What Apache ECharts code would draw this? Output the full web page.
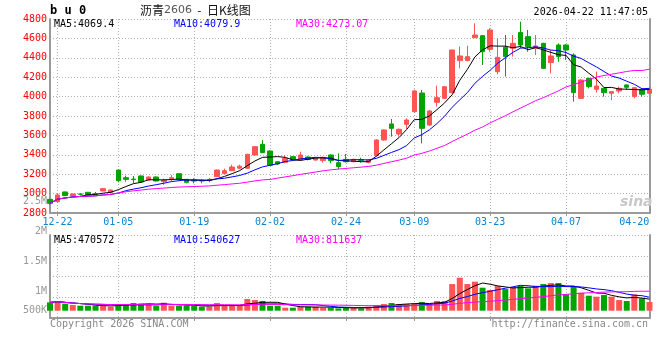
<!DOCTYPE html>
<html><head><meta charset="utf-8">
<script src="https://cdn.jsdelivr.net/npm/echarts@6/dist/echarts.min.js"></script>
<style>html,body{margin:0;padding:0;background:#fff}#c{width:660px;height:360px}</style>
</head><body><div id="c"></div>
<script>
const dates = ['12-19','12-22','12-23','12-24','12-25','12-26','12-29','12-30','12-31',
'01-05','01-06','01-07','01-08','01-09','01-12','01-13','01-14','01-15','01-16',
'01-19','01-20','01-21','01-22','01-23','01-26','01-27','01-28','01-29','01-30',
'02-02','02-03','02-04','02-05','02-06','02-09','02-10','02-11','02-12','02-13',
'02-24','02-25','02-26','02-27','03-02','03-03','03-04','03-05','03-06',
'03-09','03-10','03-11','03-12','03-13','03-16','03-17','03-18','03-19','03-20',
'03-23','03-24','03-25','03-26','03-27','03-30','03-31','04-01','04-02','04-03',
'04-07','04-08','04-09','04-10','04-13','04-14','04-15','04-16','04-17',
'04-20','04-21','04-22'];
const opens  = [2941,2917,3017,2979,2996,3013,3000,3027,3013,3243,3164,3150,3182,3140,3171,3123,3154,3205,3147,3140,
                3135,3137,3175,3206,3236,3262,3261,3398,3508,3439,3329,3322,3381,3346,3377,3346,3340,3398,3319,3353,
                3329,3350,3322,3391,3553,3718,3614,3714,3845,4037,3707,3941,3982,4041,4371,4371,4607,4628,4487,4257,
                4508,4498,4662,4618,4498,4549,4350,4532,4532,4429,3982,4188,4075,4085,4034,4058,4120,4000,4075,4034];
const closes = [2900,2986,2979,2996,2993,2986,2997,3051,3037,3133,3147,3144,3120,3171,3130,3140,3164,3147,3116,3130,
                3130,3147,3243,3236,3274,3283,3405,3484,3422,3292,3305,3364,3353,3398,3353,3364,3374,3340,3278,3329,
                3353,3343,3346,3553,3656,3673,3663,3759,4058,3673,3852,3989,4102,4480,4419,4412,4635,4463,4687,4405,
                4412,4549,4532,4515,4522,4291,4419,4412,4480,4041,4171,4103,4109,4041,4051,4085,4096,4092,4024,4075];
const lows   = [2886,2907,2975,2975,2982,2983,2989,3024,3010,3116,3123,3106,3115,3137,3125,3089,3123,3140,3106,3106,
                3106,3116,3170,3200,3232,3250,3255,3390,3418,3285,3295,3312,3346,3340,3343,3340,3319,3312,3250,3319,
                3322,3319,3312,3385,3545,3587,3587,3666,3835,3518,3700,3896,3975,4035,4291,4365,4607,4326,4463,4230,
                4206,4412,4498,4463,4429,4285,4240,4360,4378,3948,3975,4085,4041,4000,3965,4034,4068,3982,4000,4027];
const highs  = [2945,3003,3020,3000,3003,3017,3017,3055,3041,3245,3185,3182,3185,3178,3178,3154,3192,3210,3150,3157,
                3147,3161,3247,3257,3298,3298,3410,3490,3553,3445,3335,3398,3384,3432,3385,3372,3380,3405,3415,3408,
                3360,3370,3353,3560,3662,3769,3670,3776,4070,4068,3860,4113,4110,4485,4515,4525,4755,4635,4704,4601,
                4635,4635,4772,4687,4635,4555,4480,4549,4540,4446,4180,4195,4257,4090,4058,4102,4125,4098,4080,4102];
const volumes = [340000,395000,286000,231000,204000,204000,204000,204000,163000,272000,
                 272000,313000,286000,272000,204000,327000,204000,204000,204000,204000,
                 163000,163000,313000,204000,204000,204000,476000,435000,395000,204000,
                 204000,122000,122000,163000,163000,163000,122000,122000,95000,122000,
                 122000,95000,163000,231000,272000,313000,272000,272000,300000,354000,
                 270000,395000,395000,1088000,1347000,1088000,1184000,939000,844000,1007000,
                 884000,966000,1020000,912000,1020000,1088000,1129000,1129000,680000,1007000,
                 735000,612000,571000,639000,571000,435000,395000,667000,503000,354000];
const dateLabels = ['12-22','01-05','01-19','02-02','02-24','03-09','03-23','04-07','04-20'];
const gridDates  = ['12-22','01-05','01-19','02-02','02-24','03-09','03-23','04-07'];
const priceMin = 2800, priceMax = 4800, priceStep = 200;
const volTickValues = [500000,1000000,1500000,2000000,2500000];
const volTickLabels = ['500K','1M','1.5M','2M','2.5M'];
const priceMaTexts = ['MA5:4069.4','MA10:4079.9','MA30:4273.07'];
const volMaTexts = ['MA5:470572','MA10:540627','MA30:811637'];
const maColors = ['#000000','#0000ff','#ff00ff'];
const maPeriods = [5,10,30];

const UP = '#ff5454', DOWN = '#00a400';
const MONO = '"DejaVu Sans Mono", "Liberation Mono", monospace';
const labelIdx = dateLabels.map(d => dates.indexOf(d));
const gridIdx = gridDates.map(d => dates.indexOf(d));

function ma(arr, n) {
  return arr.map((_, i) => {
    const s = Math.max(0, i - n + 1);
    let t = 0;
    for (let j = s; j <= i; j++) t += arr[j];
    return +(t / (i - s + 1)).toFixed(2);
  });
}

const L = 50, R = 10.5;
const frameLine = { show: true, lineStyle: { color: '#9a9a9a', width: 2 } };
const dotted = { show: true, lineStyle: { color: '#b0b0b0', type: [1, 2], width: 1 } };

const chart = echarts.init(document.getElementById('c'));
const candleData = dates.map((d, i) => [opens[i], closes[i], lows[i], highs[i]]);
const volData = volumes.map((v, i) => ({ value: v, itemStyle: { color: closes[i] >= opens[i] ? UP : DOWN } }));

const series = [{
  type: 'candlestick', xAxisIndex: 0, yAxisIndex: 0, data: candleData, barWidth: 5,
  itemStyle: { color: UP, color0: DOWN, borderColor: UP, borderColor0: DOWN, borderWidth: 1 }
}];
maPeriods.forEach((p, k) => {
  series.push({ type: 'line', xAxisIndex: 0, yAxisIndex: 0, data: ma(closes, p), symbol: 'none',
    lineStyle: { color: maColors[k], width: 1 }, z: 3 });
});
series.push({ type: 'bar', xAxisIndex: 1, yAxisIndex: 2, data: volData, barWidth: 6 });
maPeriods.forEach((p, k) => {
  series.push({ type: 'line', xAxisIndex: 1, yAxisIndex: 2, data: ma(volumes, p), symbol: 'none',
    lineStyle: { color: maColors[k], width: 1 }, z: 3 });
});

const hiddenX = (g) => ({ type: 'category', gridIndex: g, data: dates, boundaryGap: false, show: false });

const graphics = [];
function txt(x, y, text, fill, font, align, valign) {
  graphics.push({ type: 'text', x, y, z: 100,
    style: { text, fill, font, textAlign: align || 'left', textVerticalAlign: valign || 'middle' } });
}
txt(50, 11, 'b u 0', '#000', 'bold 12px ' + MONO);
graphics.push({ type: 'text', x: 140, y: 10, z: 100, style: {
  text: '{a|沥青}{b|2606}{a|  -  日K线图}', textVerticalAlign: 'middle',
  rich: { a: { fontFamily: '"Noto Sans CJK SC", sans-serif', fontSize: 12, fill: '#111', color: '#111' },
          b: { fontFamily: '"DejaVu Sans", sans-serif', fontSize: 11, fill: '#555', color: '#555' } } } });
txt(648, 12, '2026-04-22 11:47:05', '#000', '10px ' + MONO, 'right');
const maX = [54, 174, 296];
priceMaTexts.forEach((t, k) => txt(maX[k], 24, t, maColors[k], '10px ' + MONO));
volMaTexts.forEach((t, k) => txt(maX[k], 240, t, maColors[k], '10px ' + MONO));
txt(50, 324, 'Copyright 2026 SINA.COM', '#888', '10px ' + MONO);
txt(648, 324, 'http://finance.sina.com.cn', '#888', '10px ' + MONO, 'right');
txt(620, 202, 'sina', '#c8c8c8', 'italic bold 14px "DejaVu Sans", sans-serif');

chart.setOption({
  animation: false,
  backgroundColor: '#fff',
  grid: [
    { left: L, right: R, top: 19, height: 194 },
    { left: L, right: R, top: 235, height: 75.7 },
    { left: L, right: R, top: 235, height: 83 },
    { left: L, right: R, top: 201, height: 120 }
  ],
  xAxis: [
    { type: 'category', gridIndex: 0, data: dates, boundaryGap: false,
      axisLine: frameLine,
      axisTick: { show: true, interval: (i) => gridIdx.includes(i), length: 3, lineStyle: { color: '#9a9a9a' } },
      axisLabel: { interval: (i) => labelIdx.includes(i), color: '#0a84d0', fontFamily: MONO, fontSize: 10, margin: 4 },
      splitLine: Object.assign({ interval: (i) => gridIdx.includes(i) }, dotted) },
    hiddenX(1),
    { type: 'category', gridIndex: 2, data: dates, boundaryGap: false,
      axisLine: frameLine,
      axisTick: { show: true, interval: (i) => gridIdx.includes(i), length: 3, lineStyle: { color: '#9a9a9a' } },
      axisLabel: { show: false },
      splitLine: Object.assign({ interval: (i) => gridIdx.includes(i) }, dotted) },
    hiddenX(3)
  ],
  yAxis: [
    { type: 'value', gridIndex: 0, min: priceMin, max: priceMax, interval: priceStep,
      axisLine: frameLine, axisTick: { show: false },
      axisLabel: { color: '#f00', fontFamily: MONO, fontSize: 10, margin: 3, padding: [0, 0, 7, 0],
        formatter: (v) => String(v) },
      splitLine: dotted },
    { type: 'value', gridIndex: 0, position: 'right', min: priceMin, max: priceMax,
      axisLine: frameLine, axisTick: { show: false }, axisLabel: { show: false }, splitLine: { show: false } },
    { type: 'value', gridIndex: 1, min: 0, max: 3090000, show: false },
    { type: 'value', gridIndex: 2, min: 0, max: 4, interval: 1,
      axisLine: frameLine, axisTick: { show: false }, axisLabel: { show: false }, splitLine: dotted },
    { type: 'value', gridIndex: 2, position: 'right', min: 0, max: 4,
      axisLine: frameLine, axisTick: { show: false }, axisLabel: { show: false }, splitLine: { show: false } },
    { type: 'value', gridIndex: 3, min: volTickValues[0], max: volTickValues[volTickValues.length - 1], interval: 500000,
      axisLine: { show: false }, axisTick: { show: false }, splitLine: { show: false },
      axisLabel: { color: '#999', fontFamily: MONO, fontSize: 10, margin: 3,
        formatter: (v) => { const i = volTickValues.indexOf(v); if (i < 0) return ''; return i === 0 ? '{lo|' + volTickLabels[i] + '}' : volTickLabels[i]; },
        rich: { lo: { color: '#999', fontFamily: MONO, fontSize: 10, padding: [0, 0, 21, 0] } } } }
  ],
  series: series,
  graphic: graphics
});
</script></body></html>
